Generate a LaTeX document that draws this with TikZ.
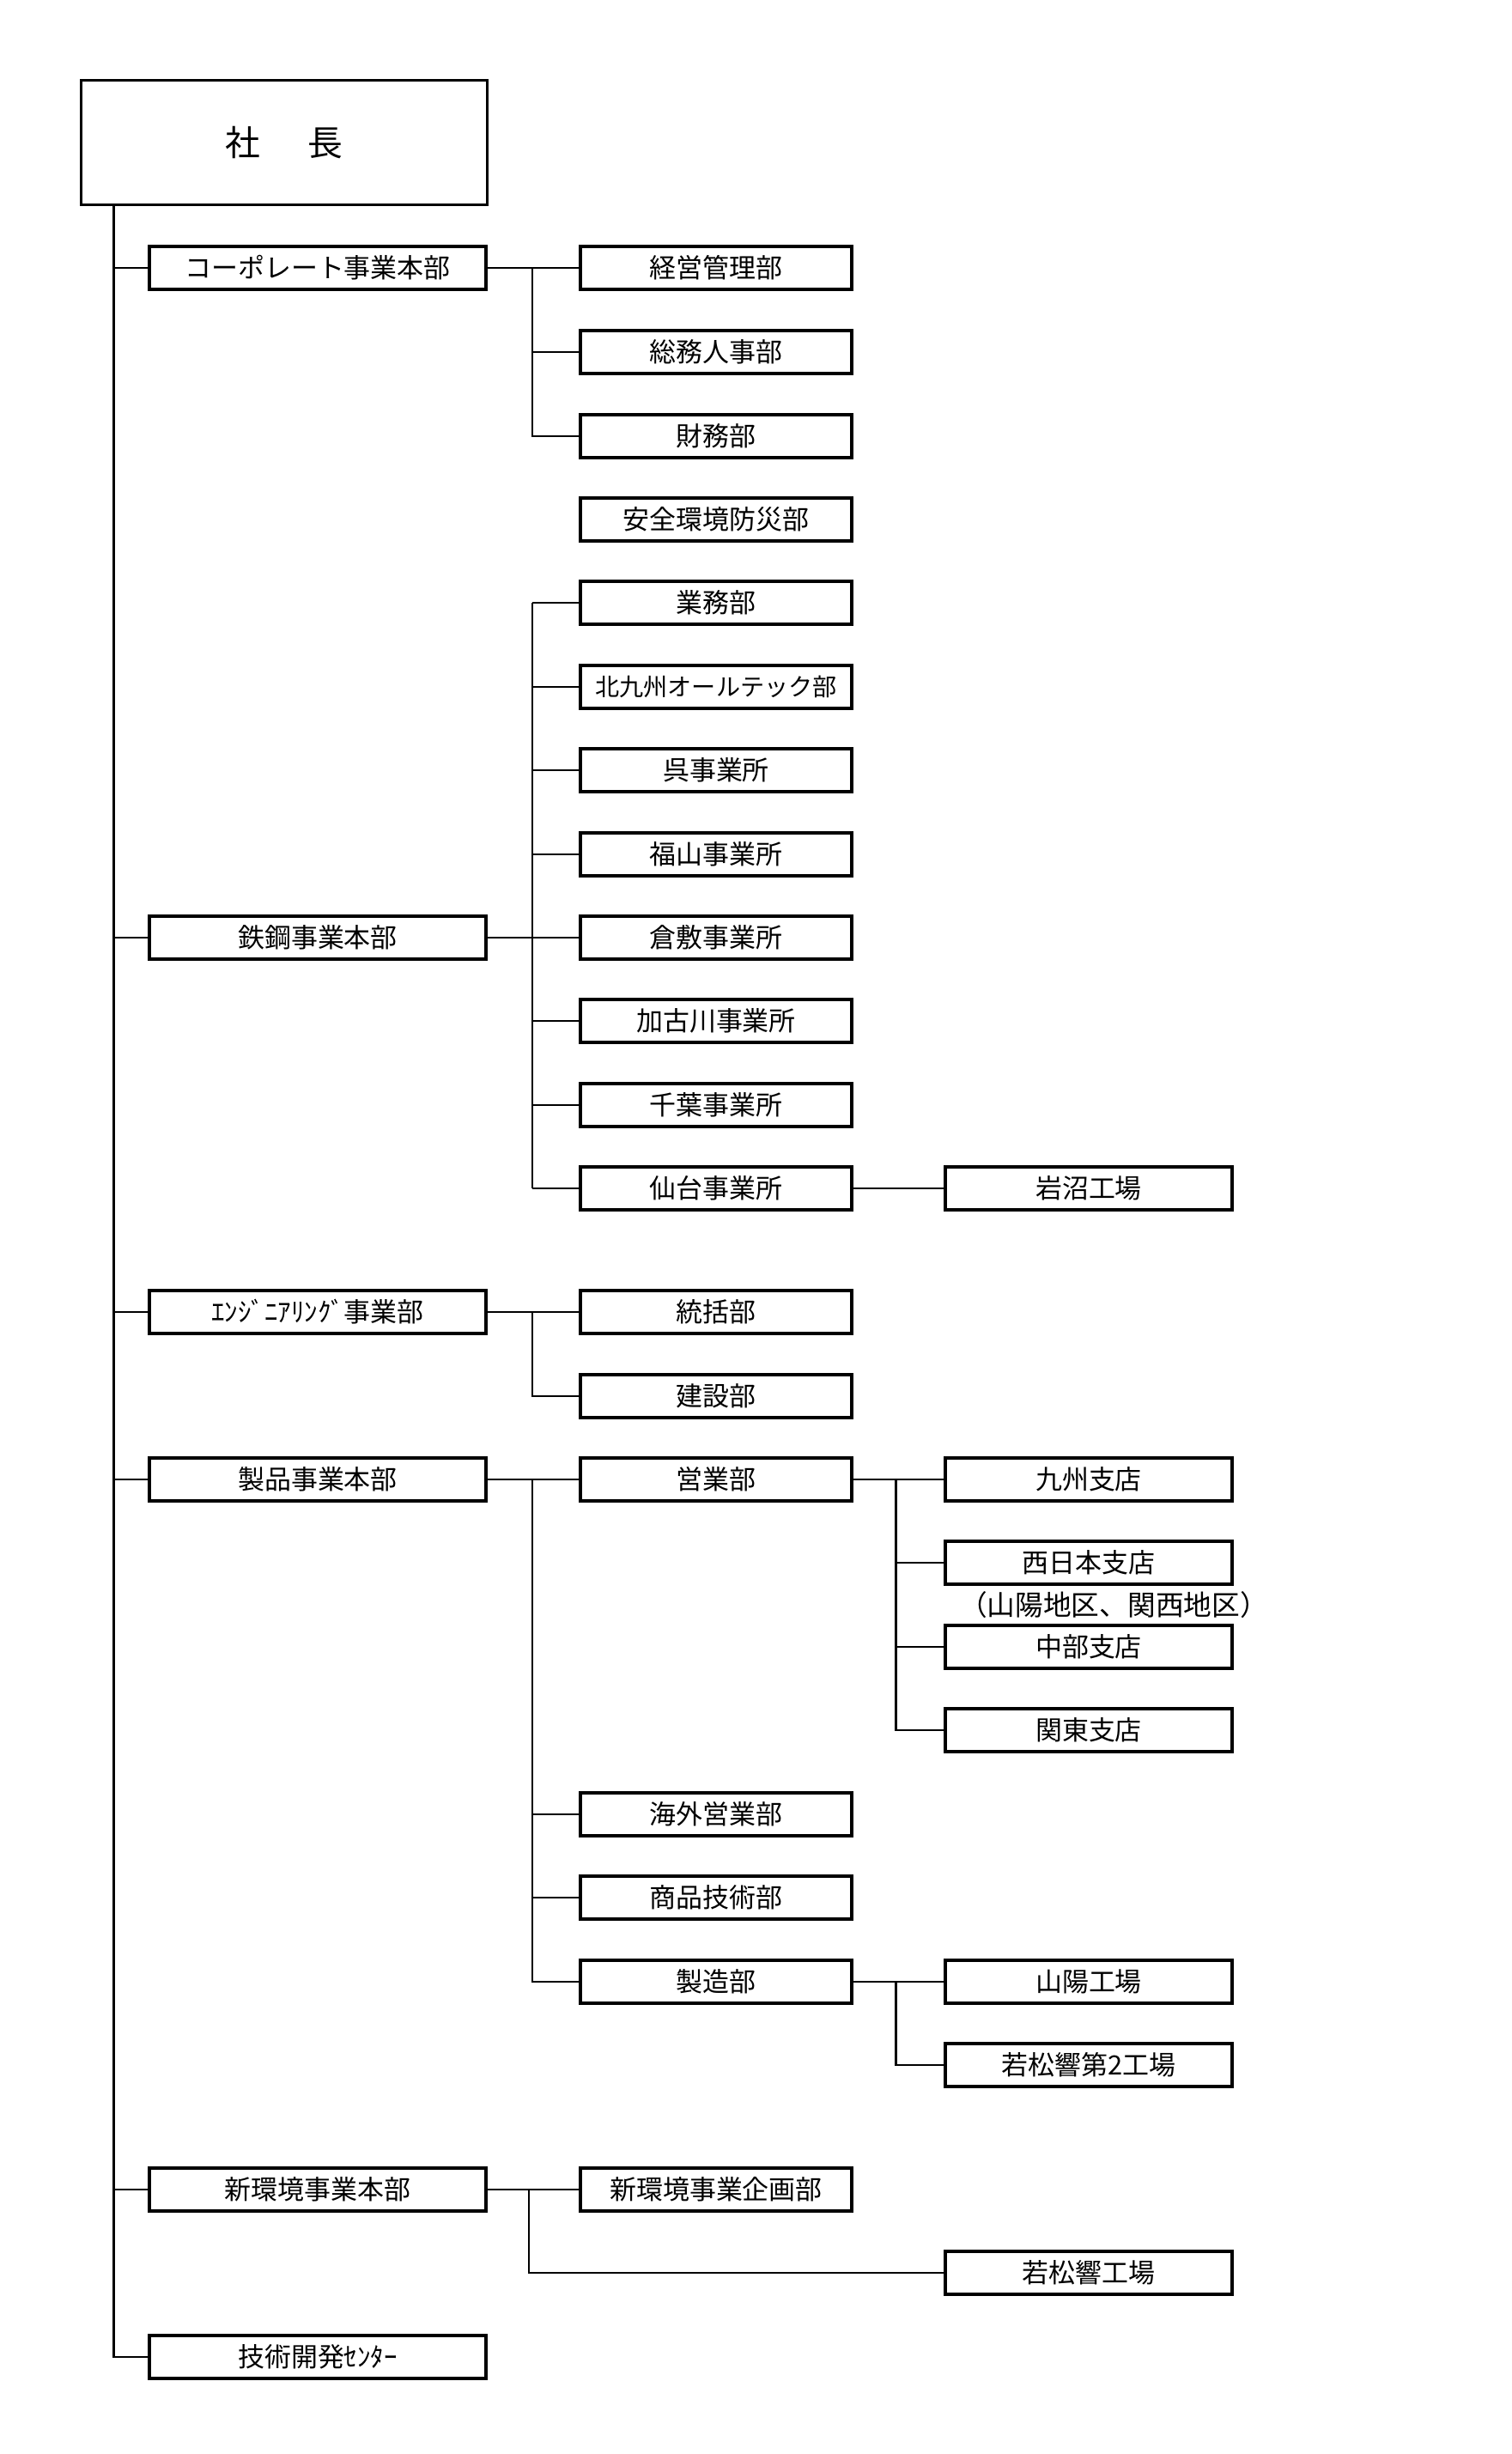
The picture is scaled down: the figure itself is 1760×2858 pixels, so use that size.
\documentclass[tikz,border=0pt]{standalone}
\usepackage{fontspec}
\setmainfont{Noto Sans CJK JP}
\usetikzlibrary{positioning}

\begin{document}
\begin{tikzpicture}[
  x=0.01cm, y=-0.01cm,
  font=\fontsize{8.8pt}{10pt}\selectfont,
  unit/.style={draw, line width=1pt, minimum height=0.5cm, inner sep=0pt, fill=white},
  hq/.style={unit, minimum width=3.92cm},
  dept/.style={unit, minimum width=3.16cm},
  site/.style={unit, minimum width=3.34cm},
  link/.style={line width=0.8pt}
]
\useasboundingbox (0,0) rectangle (1760,2858);
% president
\node[unit, minimum width=4.73cm, minimum height=1.45cm,
  font=\fontsize{11.6pt}{13pt}\selectfont] (pres) at (331,166) {社\hspace{1.35em}長};
% head offices
\node[hq] (corp)  at (370,312)  {コーポレート事業本部};
\node[hq] (steel) at (370,1092) {鉄鋼事業本部};
\node[hq] (eng)   at (370,1528) {ｴﾝｼﾞﾆｱﾘﾝｸﾞ事業部};
\node[hq] (prod)  at (370,1723) {製品事業本部};
\node[hq] (env)   at (370,2550) {新環境事業本部};
\node[hq] (tech)  at (370,2745) {技術開発ｾﾝﾀｰ};
% departments
\node[dept] (keiei)     at (834,312)  {経営管理部};
\node[dept] (somu)      at (834,410)  {総務人事部};
\node[dept] (zaimu)     at (834,508)  {財務部};
\node[dept] (anzen)     at (834,605)  {安全環境防災部};
\node[dept] (gyomu)     at (834,702)  {業務部};
\node[dept, font=\fontsize{8pt}{10pt}\selectfont] (kitaq) at (834,800) {北九州オールテック部};
\node[dept] (kure)      at (834,897)  {呉事業所};
\node[dept] (fukuyama)  at (834,995)  {福山事業所};
\node[dept] (kurashiki) at (834,1092) {倉敷事業所};
\node[dept] (kakogawa)  at (834,1189) {加古川事業所};
\node[dept] (chiba)     at (834,1287) {千葉事業所};
\node[dept] (sendai)    at (834,1384) {仙台事業所};
\node[dept] (tokatsu)   at (834,1528) {統括部};
\node[dept] (kensetsu)  at (834,1626) {建設部};
\node[dept] (eigyo)     at (834,1723) {営業部};
\node[dept] (kaigai)    at (834,2113) {海外営業部};
\node[dept] (shohin)    at (834,2210) {商品技術部};
\node[dept] (seizo)     at (834,2308) {製造部};
\node[dept] (kikaku)    at (834,2550) {新環境事業企画部};
% branches and plants
\node[site] (iwanuma)   at (1268,1384) {岩沼工場};
\node[site] (kyushu)    at (1268,1723) {九州支店};
\node[site] (nishi)     at (1268,1820) {西日本支店};
\node[site] (chubu)     at (1268,1918) {中部支店};
\node[site] (kanto)     at (1268,2015) {関東支店};
\node[site] (sanyo)     at (1268,2308) {山陽工場};
\node[site] (waka2)     at (1268,2405) {若松響第2工場};
\node[site] (wakamatsu) at (1268,2647) {若松響工場};
\node[font=\fontsize{9.3pt}{10pt}\selectfont] (nishinote) at (1297,1869) {（山陽地区、関西地区）};
% trunk
\coordinate[right=0.4cm of pres.south west] (trunk);
\draw[link] (trunk) |- (tech.west);
\foreach \h in {corp,steel,eng,prod,env}
  \draw[link] (\h.west) -- (\h.west -| trunk);
% head office buses
\coordinate[right=0.52cm of corp.east] (corpbus);
\coordinate[right=0.52cm of steel.east] (steelbus);
\coordinate[right=0.52cm of eng.east] (engbus);
\coordinate[right=0.52cm of prod.east] (prodbus);
\coordinate[right=0.48cm of env.east] (envbus);
\draw[link] (corp.east) -- (keiei.west);
\foreach \d in {somu,zaimu}
  \draw[link] (corpbus) |- (\d.west);
\draw[link] (steel.east) -- (kurashiki.west);
\draw[link] (steelbus |- gyomu.west) -- (steelbus |- sendai.west);
\foreach \d in {gyomu,kitaq,kure,fukuyama,kakogawa,chiba,sendai}
  \draw[link] (steelbus |- \d.west) -- (\d.west);
\draw[link] (eng.east) -- (tokatsu.west);
\draw[link] (engbus) |- (kensetsu.west);
\draw[link] (prod.east) -- (eigyo.west);
\foreach \d in {kaigai,shohin,seizo}
  \draw[link] (prodbus) |- (\d.west);
\draw[link] (env.east) -- (kikaku.west);
\draw[link] (envbus) |- (wakamatsu.west);
% department buses
\coordinate[right=0.5cm of eigyo.east] (eigyobus);
\coordinate[right=0.5cm of seizo.east] (seizobus);
\draw[link] (sendai.east) -- (iwanuma.west);
\draw[link] (eigyo.east) -- (kyushu.west);
\foreach \s in {nishi,chubu,kanto}
  \draw[link] (eigyobus) |- (\s.west);
\draw[link] (seizo.east) -- (sanyo.west);
\draw[link] (seizobus) |- (waka2.west);
\end{tikzpicture}
\end{document}
